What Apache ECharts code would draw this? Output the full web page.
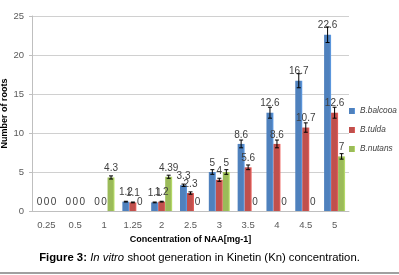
<!DOCTYPE html>
<html>
<head>
<meta charset="utf-8">
<script src="https://cdn.jsdelivr.net/npm/echarts@6/dist/echarts.min.js"></script>
<style>
html,body{margin:0;padding:0;background:#fff;}
#chart{width:399px;height:275px;}
</style>
</head>
<body>
<div id="chart"></div>
<script>
// 横轴浓度
var categories = ['0.25', '0.5', '1', '1.25', '2', '2.5', '3', '3.5', '4', '4.5', '5'];
var seriesNames = ['B.balcooa', 'B.tulda', 'B.nutans'];
// 根数
var balcooa = [0, 0, 0, 1.2, 1.1, 3.3, 5, 8.6, 12.6, 16.7, 22.6];
var tulda = [0, 0, 0, 1.1, 1.2, 2.3, 4, 5.6, 8.6, 10.7, 12.6];
var nutans = [0, 0, 4.3, 0, 4.39, 0, 5, 0, 0, 0, 7];
// 误差
var balcooaErr = [0, 0, 0, 0.05, 0.05, 0.15, 0.3, 0.5, 0.7, 0.9, 1.0];
var tuldaErr = [0, 0, 0, 0.05, 0.05, 0.15, 0.2, 0.3, 0.5, 0.6, 0.7];
var nutansErr = [0, 0, 0.2, 0, 0.2, 0, 0.3, 0, 0, 0, 0.35];
var colors = ['#4F81BD', '#C0504D', '#9BBB59'];
var yTicks = [0, 5, 10, 15, 20, 25];

var barW = 7;
var font = 'Liberation Sans';
var myChart = echarts.init(document.getElementById('chart'));

function barSerie(name, data, color)
{
	return {
		name: name,
		type: 'bar',
		barWidth: barW,
		barGap: '0%',
		itemStyle: {
			color: new echarts.graphic.LinearGradient(0, 0, 1, 0, [
				{offset: 0, color: color},
				{offset: 0.75, color: color},
				{offset: 1, color: echarts.color.lift(color, -0.25)}
			])
		},
		label: {show: true, position: 'top', distance: 4, fontSize: 10, color: '#404040', fontFamily: font},
		data: data
	};
}

//误差线，用custom系列画
function errSerie(name, values, errs, idx)
{
	var data = [];
	for(var i=0;i<values.length;i++)
	{
		if(values[i] > 0 && errs[i] > 0)
		{
			data.push([i, values[i], errs[i]]);
		}
	}
	var offset = (idx - 1) * barW;
	return {
		name: name,
		type: 'custom',
		z: 5,
		renderItem: function(params, api){
			var c = api.value(0), v = api.value(1), e = api.value(2);
			var hi = api.coord([c, v + e]);
			var lo = api.coord([c, v - e]);
			var x = hi[0] + offset;
			var st = {stroke: '#000', lineWidth: 1};
			return {type: 'group', children: [
				{type: 'line', shape: {x1: x, y1: hi[1], x2: x, y2: lo[1]}, style: st},
				{type: 'line', shape: {x1: x - 2, y1: hi[1], x2: x + 2, y2: hi[1]}, style: st},
				{type: 'line', shape: {x1: x - 2, y1: lo[1], x2: x + 2, y2: lo[1]}, style: st}
			]};
		},
		encode: {x: 0, y: 1},
		data: data,
		silent: true
	};
}

var option = {
	backgroundColor: '#fff',
	animation: false,
	grid: {left: 32, right: 50, top: 16, bottom: 64, outerBoundsMode: 'none', containLabel: false},
	legend: {
		data: seriesNames,
		orient: 'vertical',
		left: 349,
		top: 107,
		padding: 0,
		itemWidth: 6,
		itemHeight: 6,
		itemGap: 11,
		icon: 'rect',
		textStyle: {fontSize: 8.3, fontStyle: 'italic', color: '#404040', fontFamily: font}
	},
	xAxis: {
		type: 'category',
		data: categories,
		name: 'Concentration of NAA[mg-1]',
		nameLocation: 'middle',
		nameGap: 23,
		nameTextStyle: {fontSize: 9, fontWeight: 'bold', color: '#000', fontFamily: font},
		axisLine: {lineStyle: {color: '#bfbfbf'}},
		axisTick: {show: false},
		axisLabel: {interval: 0, fontSize: 9.5, color: '#595959', margin: 9, fontFamily: font}
	},
	yAxis: {
		type: 'value',
		min: 0,
		max: 25,
		interval: 5,
		name: 'Number of roots',
		nameLocation: 'middle',
		nameGap: 23,
		nameMoveOverlap: false,
		nameTextStyle: {fontSize: 9, fontWeight: 'bold', color: '#000', fontFamily: font},
		axisLine: {show: true, lineStyle: {color: '#bfbfbf'}},
		axisTick: {show: true, length: 3, lineStyle: {color: '#bfbfbf'}},
		axisLabel: {fontSize: 9.5, color: '#595959', margin: 8, fontFamily: font,
			formatter: function(v){ return yTicks.indexOf(v) >= 0 ? String(v) : ''; }},
		splitLine: {lineStyle: {color: '#d0d0d0'}}
	},
	series: [
		barSerie(seriesNames[0], balcooa, colors[0]),
		barSerie(seriesNames[1], tulda, colors[1]),
		barSerie(seriesNames[2], nutans, colors[2]),
		errSerie('e0', balcooa, balcooaErr, 0),
		errSerie('e1', tulda, tuldaErr, 1),
		errSerie('e2', nutans, nutansErr, 2)
	],
	color: colors,
	graphic: [
		{
			type: 'text',
			left: 'center',
			top: 252,
			style: {
				text: '{b|Figure 3:} {i|In vitro} {n|shoot generation in Kinetin (Kn) concentration.}',
				rich: {
					b: {fontSize: 11.3, fontWeight: 'bold', fontFamily: font, fill: '#000'},
					i: {fontSize: 11.3, fontStyle: 'italic', fontFamily: font, fill: '#000'},
					n: {fontSize: 11.3, fontFamily: font, fill: '#000'}
				}
			}
		},
		{
			type: 'rect',
			left: 0,
			top: 272,
			shape: {width: 399, height: 2},
			style: {fill: '#a0a0a0'}
		}
	]
};
myChart.setOption(option);
</script>
</body>
</html>
